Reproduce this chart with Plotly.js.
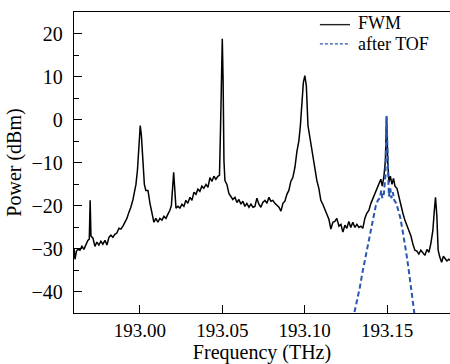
<!DOCTYPE html>
<html>
<head>
<meta charset="utf-8">
<script src="https://cdn.plot.ly/plotly-3.0.1.min.js"></script>
<style>html,body{margin:0;padding:0;background:#fff;}#chart{width:450px;height:364px;}</style>
</head>
<body>
<div id="chart"></div>
<script>
var fwmFreq = [192.9600,192.9606,192.9615,192.9624,192.9636,192.9648,192.9660,192.9672,192.9684,192.9693,192.9698,192.9703,192.9715,192.9727,192.9739,192.9751,192.9763,192.9775,192.9788,192.9800,192.9812,192.9824,192.9836,192.9848,192.9860,192.9873,192.9885,192.9897,192.9909,192.9921,192.9933,192.9945,192.9958,192.9967,192.9976,192.9985,192.9994,193.0002,193.0009,193.0018,193.0027,193.0036,193.0049,193.0061,193.0073,193.0085,193.0097,193.0109,193.0121,193.0134,193.0146,193.0158,193.0170,193.0182,193.0191,193.0197,193.0205,193.0212,193.0219,193.0231,193.0243,193.0255,193.0267,193.0279,193.0291,193.0304,193.0316,193.0328,193.0340,193.0352,193.0364,193.0376,193.0388,193.0401,193.0413,193.0425,193.0437,193.0449,193.0461,193.0473,193.0483,193.0489,193.0495,193.0500,193.0505,193.0510,193.0516,193.0528,193.0540,193.0552,193.0564,193.0577,193.0589,193.0601,193.0613,193.0625,193.0637,193.0649,193.0662,193.0674,193.0686,193.0698,193.0710,193.0722,193.0734,193.0746,193.0759,193.0771,193.0783,193.0795,193.0807,193.0819,193.0831,193.0844,193.0856,193.0868,193.0880,193.0892,193.0904,193.0916,193.0928,193.0941,193.0953,193.0965,193.0974,193.0983,193.0992,193.1001,193.1010,193.1020,193.1029,193.1038,193.1050,193.1062,193.1074,193.1086,193.1098,193.1110,193.1123,193.1135,193.1147,193.1159,193.1171,193.1183,193.1195,193.1208,193.1220,193.1232,193.1244,193.1256,193.1268,193.1280,193.1292,193.1305,193.1317,193.1329,193.1341,193.1353,193.1365,193.1377,193.1390,193.1402,193.1414,193.1426,193.1438,193.1450,193.1462,193.1471,193.1481,193.1490,193.1497,193.1504,193.1511,193.1520,193.1530,193.1539,193.1548,193.1560,193.1572,193.1584,193.1596,193.1608,193.1621,193.1633,193.1645,193.1657,193.1669,193.1681,193.1693,193.1705,193.1718,193.1730,193.1742,193.1754,193.1766,193.1778,193.1787,193.1794,193.1802,193.1810,193.1820,193.1831,193.1842,193.1851,193.1863,193.1875,193.1885];
var fwmPower = [-29.9,-32.5,-30.6,-30.2,-30.4,-29.5,-30.2,-29.0,-28.1,-27.8,-18.8,-27.1,-27.6,-29.5,-28.5,-29.2,-28.3,-29.0,-28.1,-29.2,-27.4,-26.9,-27.4,-26.7,-26.4,-25.3,-25.5,-24.8,-23.9,-23.0,-21.6,-20.4,-18.6,-16.5,-15.1,-11.8,-4.9,-1.4,-3.7,-10.7,-15.1,-16.5,-16.5,-19.5,-21.6,-23.9,-23.0,-23.9,-23.0,-23.4,-22.5,-23.0,-22.0,-21.1,-20.0,-16.5,-12.3,-16.5,-20.6,-20.2,-20.6,-19.7,-20.2,-18.8,-19.5,-18.1,-18.8,-16.9,-17.4,-16.2,-16.7,-15.5,-16.0,-15.1,-15.8,-13.5,-14.4,-13.2,-13.9,-13.2,-13.0,-2.6,13.7,18.8,9.0,-9.5,-14.2,-15.1,-17.2,-17.9,-18.6,-18.1,-19.3,-18.6,-19.7,-19.0,-20.2,-19.5,-20.4,-19.7,-20.4,-20.2,-18.3,-19.7,-20.4,-19.3,-18.8,-19.5,-18.1,-19.0,-18.8,-19.5,-20.0,-20.4,-21.3,-19.5,-19.0,-17.4,-16.5,-14.4,-13.5,-11.1,-7.4,-4.9,-1.4,4.4,8.6,10.2,7.9,-1.4,-3.7,-4.9,-8.4,-11.1,-14.2,-16.0,-18.8,-19.7,-21.1,-22.0,-23.2,-25.5,-23.9,-23.7,-23.0,-24.8,-24.4,-26.2,-24.6,-25.3,-23.7,-25.1,-23.9,-25.1,-24.4,-25.1,-24.8,-25.3,-23.0,-21.8,-21.1,-19.5,-18.3,-17.2,-16.2,-15.1,-13.9,-15.5,-13.2,-9.5,0.5,-9.5,-14.6,-13.2,-15.1,-13.7,-15.5,-16.0,-18.1,-20.0,-21.8,-23.4,-24.8,-26.2,-27.1,-29.0,-30.4,-30.6,-31.3,-30.4,-31.1,-31.6,-30.2,-30.9,-28.8,-25.8,-21.1,-18.1,-22.3,-30.4,-32.0,-33.2,-31.8,-32.3,-32.9,-32.5,-32.8];

var tofFreq = [193.1292,193.1317,193.1335,193.1350,193.1365,193.1380,193.1396,193.1408,193.1420,193.1432,193.1444,193.1456,193.1465,193.1471,193.1481,193.1490,193.1497,193.1504,193.1511,193.1520,193.1526,193.1535,193.1544,193.1556,193.1568,193.1580,193.1592,193.1605,193.1617,193.1629,193.1641,193.1653,193.1665,193.1671];
var tofPower = [-46.6,-42.5,-39.0,-35.7,-32.7,-29.5,-26.5,-23.9,-21.6,-20.0,-18.8,-18.3,-16.5,-18.3,-17.2,-13.0,0.9,-13.0,-17.9,-16.0,-18.3,-16.9,-18.8,-19.5,-20.9,-22.8,-25.3,-28.1,-31.1,-34.3,-37.6,-41.1,-44.6,-46.6];

var seriesNames = ['FWM', 'after TOF'];
var xTickVals = [193.00, 193.05, 193.10, 193.15];
var yTickVals = [-40, -30, -20, -10, 0, 10, 20];

var FONT = 'Liberation Serif, Times New Roman, serif';
var blue = '#2856b0';

var traces = [
  {x: fwmFreq, y: fwmPower, type: 'scatter', mode: 'lines', name: seriesNames[0],
   line: {color: '#000', width: 1.5}, showlegend: false},
  {x: tofFreq, y: tofPower, type: 'scatter', mode: 'lines', name: seriesNames[1],
   line: {color: blue, width: 2, dash: '5px,3px'}, showlegend: false}
];

var layout = {
  width: 450, height: 364,
  margin: {l: 74, r: 0, t: 12, b: 51},
  paper_bgcolor: '#fff', plot_bgcolor: '#fff',
  font: {family: FONT, color: '#000', size: 20},
  showlegend: false,
  xaxis: {
    range: [192.960, 193.1882],
    tickvals: xTickVals, tickformat: '.2f',
    ticks: 'inside', ticklen: 8, tickcolor: '#000', tickwidth: 1,
    showline: true, linecolor: '#000', linewidth: 1.2, mirror: true,
    showgrid: false, zeroline: false,
    tickfont: {size: 19},
    ticklabelstandoff: 0,
    title: {text: 'Frequency (THz)', font: {size: 20}, standoff: 2}
  },
  yaxis: {
    range: [-45, 25],
    tickvals: yTickVals,
    ticks: 'inside', ticklen: 8, tickcolor: '#000', tickwidth: 1,
    minor: {dtick: 5, tick0: 0, ticks: 'inside', ticklen: 5, tickcolor: '#000'},
    showline: true, linecolor: '#000', linewidth: 1.2,
    showgrid: false, zeroline: false,
    tickfont: {size: 20},
    ticklabelstandoff: 6,
    title: {text: 'Power (dBm)', font: {size: 20}, standoff: 4}
  },
  shapes: [
    {type: 'line', xref: 'paper', yref: 'paper', x0: 0.654, x1: 0.734, y0: 0.958, y1: 0.958,
     line: {color: '#222', width: 1.4}},
    {type: 'line', xref: 'paper', yref: 'paper', x0: 0.654, x1: 0.734, y0: 0.894, y1: 0.894,
     line: {color: blue, width: 1.2, dash: '3px,2px'}}
  ],
  annotations: [
    {xref: 'paper', yref: 'paper', x: 0.750, y: 0.966, xanchor: 'left', yanchor: 'middle',
     height: 15, valign: 'middle',
     text: seriesNames[0], showarrow: false, font: {size: 18}},
    {xref: 'paper', yref: 'paper', x: 0.750, y: 0.897, xanchor: 'left', yanchor: 'middle',
     height: 15, valign: 'middle',
     text: seriesNames[1], showarrow: false, font: {size: 18}}
  ]
};

Plotly.newPlot('chart', traces, layout, {staticPlot: true, displayModeBar: false});
</script>
</body>
</html>
